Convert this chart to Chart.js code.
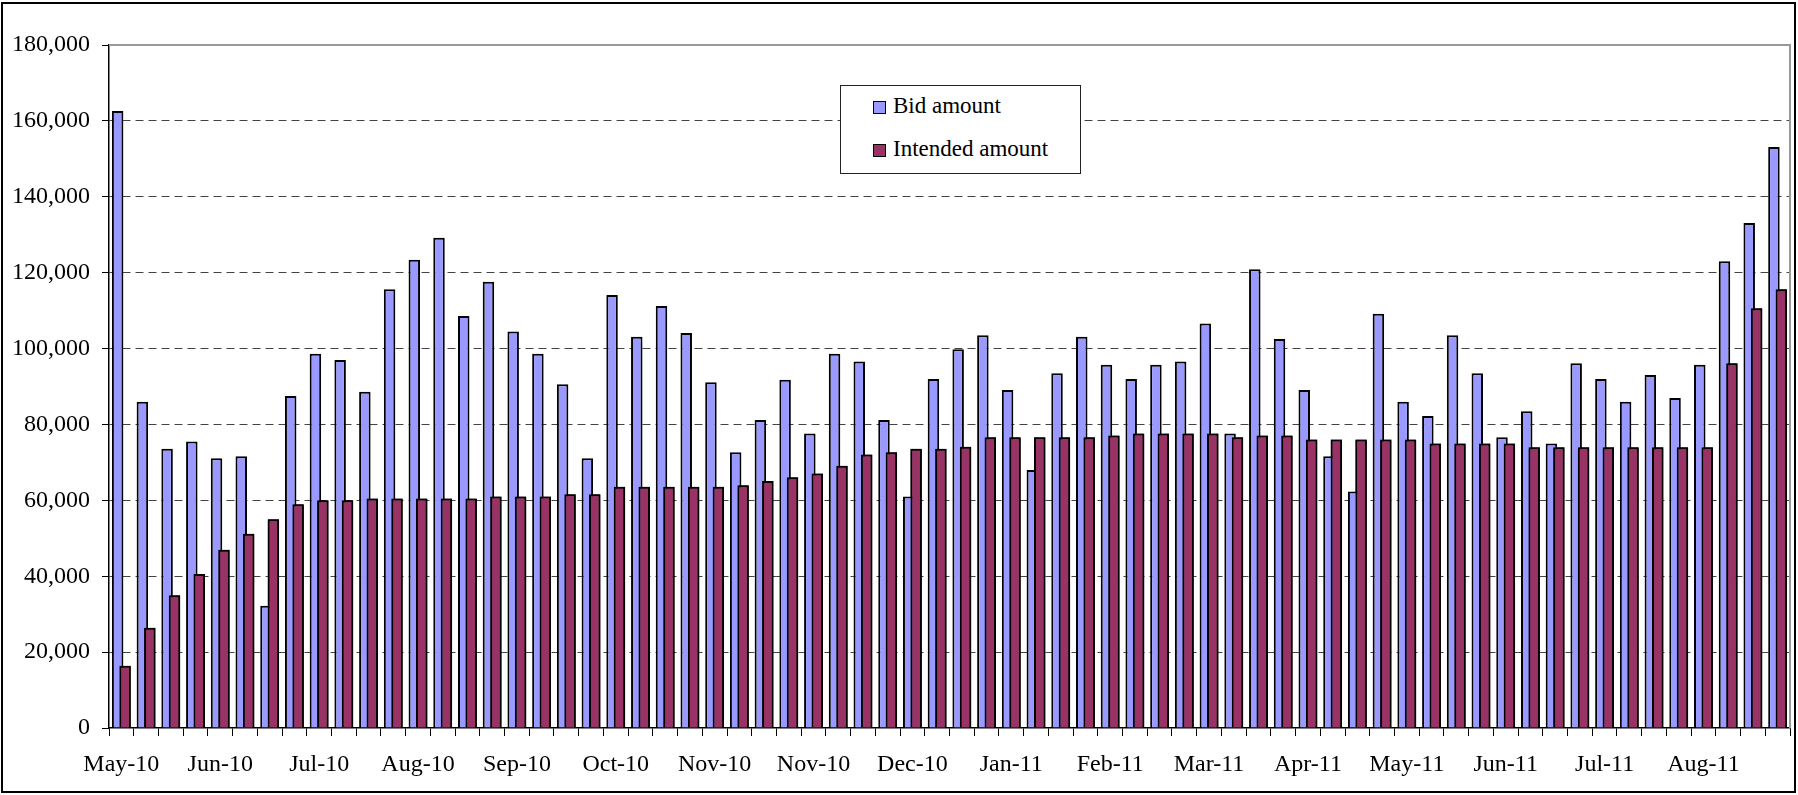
<!DOCTYPE html>
<html>
<head>
<meta charset="utf-8">
<script src="https://cdn.jsdelivr.net/npm/chart.js@4.4.1/dist/chart.umd.min.js"></script>
<style>
  body { margin: 0; background: #fff; }
  #wrap { position: relative; width: 1798px; height: 795px; }
  #legend {
    position: absolute; left: 840px; top: 85px; width: 239px; height: 87px;
    border: 1px solid #222; background: #fff;
    font-family: "Liberation Serif", "Times New Roman", serif; font-size: 23px; color: #000;
  }
  .item { position: absolute; left: 32px; height: 28px; line-height: 28px; white-space: nowrap; }
  .swatch { position: absolute; left: 0; top: 7px; width: 11px; height: 11px; border: 1.5px solid #000; }
  .item span { position: absolute; left: 20px; top: -2px; }
</style>
</head>
<body>
<div id="wrap">
  <canvas id="chart" width="1798" height="795"></canvas>
  <div id="legend"></div>
</div>
<script>
// weekly amounts
const tickLabels = ['May-10', 'Jun-10', 'Jul-10', 'Aug-10', 'Sep-10', 'Oct-10', 'Nov-10', 'Nov-10', 'Dec-10',
  'Jan-11', 'Feb-11', 'Mar-11', 'Apr-11', 'May-11', 'Jun-11', 'Jul-11', 'Aug-11'];

const bidAmount = [
  162600, 86000, 73600, 75500, 71100, 71600, 32200, 87500, 98600, 97000,
  88600, 115600, 123400, 129200, 108600, 117600, 104500, 98600, 90600, 71100,
  114100, 103100, 111200, 104100, 91100, 72700, 81200, 91800, 77600, 98600,
  96600, 81200, 61000, 92000, 99800, 103500, 89100, 68000, 93500, 103100,
  95700, 92000, 95700, 96600, 106600, 77600, 120900, 102500, 89100, 71600,
  62300, 109200, 86000, 82200, 103500, 93500, 76600, 83500, 75000, 96100,
  92000, 86000, 93000, 87000, 95700, 123000, 133100, 153100
];

const intendedAmount = [
  16400, 26400, 35000, 40600, 47000, 51200, 55000, 59000, 60000, 60000,
  60500, 60500, 60500, 60500, 60500, 61000, 61000, 61000, 61600, 61600,
  63600, 63600, 63600, 63600, 63600, 64000, 65100, 66100, 67100, 69100,
  72100, 72700, 73600, 73600, 74100, 76600, 76600, 76600, 76600, 76600,
  77100, 77600, 77600, 77600, 77600, 76600, 77100, 77100, 76000, 76000,
  76000, 76000, 76000, 75000, 75000, 75000, 75000, 74000, 74000, 74000,
  74000, 74000, 74000, 74000, 74000, 96100, 110600, 115600
];

// one label every 4 weeks
const categories = bidAmount.map((v, i) => (i % 4 === 0 ? tickLabels[i / 4] : ''));

const serif = '"Liberation Serif", "Times New Roman", serif';

const framePlugin = {
  id: 'frame',
  beforeDatasetsDraw(chart) {
    const { ctx, chartArea: a } = chart;
    ctx.save();
    ctx.strokeStyle = '#999';
    ctx.lineWidth = 2;
    ctx.beginPath();
    ctx.moveTo(a.left, a.top);
    ctx.lineTo(a.right, a.top);
    ctx.lineTo(a.right, a.bottom);
    ctx.stroke();
    ctx.restore();
  },
  afterDatasetsDraw(chart) {
    // intended bars sit over the bid bars
    chart.getDatasetMeta(1).controller.draw();
  },
  afterDraw(chart) {
    const ctx = chart.ctx;
    ctx.save();
    ctx.strokeStyle = '#000';
    ctx.lineWidth = 2;
    ctx.strokeRect(2, 3, 1793, 789);
    ctx.restore();
  }
};

const chart = new Chart(document.getElementById('chart'), {
  type: 'bar',
  data: {
    labels: categories,
    datasets: [
      { label: 'Bid amount', data: bidAmount, backgroundColor: '#9999FF', borderColor: '#000', borderWidth: 2,
        categoryPercentage: 0.6, barPercentage: 1.55 },
      { label: 'Intended amount', data: intendedAmount, backgroundColor: '#993366', borderColor: '#000', borderWidth: 2,
        categoryPercentage: 0.6, barPercentage: 1.55 }
    ]
  },
  options: {
    responsive: false,
    animation: false,
    devicePixelRatio: 1,
    layout: { padding: { left: 0, right: 8, top: 45, bottom: 0 } },
    plugins: { legend: { display: false }, tooltip: { enabled: false } },
    scales: {
      x: {
        grid: { display: true, drawOnChartArea: false, drawTicks: true, tickLength: 8, color: '#000', offset: true },
        border: { color: '#000', width: 1.5 },
        ticks: { autoSkip: false, maxRotation: 0, minRotation: 0, padding: 14, color: '#000',
          font: { family: serif, size: 24 } },
        afterFit(scale) { scale.height = 67; }
      },
      y: {
        min: 0,
        max: 180000,
        grid: {
          color: (c) => (c.tick && (c.tick.value === 0 || c.tick.value === 180000)) ? 'rgba(0,0,0,0)' : '#444',
          tickColor: '#000',
          tickLength: 7,
          lineWidth: 1
        },
        border: { color: '#000', width: 1.5, dash: [8, 5] },
        ticks: {
          stepSize: 20000,
          padding: 12,
          color: '#000',
          font: { family: serif, size: 24 },
          callback: (v) => String(v).replace(/\B(?=(\d{3})+(?!\d))/g, ',')
        },
        afterFit(scale) { scale.width = 109; }
      }
    }
  },
  plugins: [framePlugin]
});

// legend box built from the datasets
const legend = document.getElementById('legend');
chart.data.datasets.forEach((ds, i) => {
  const item = document.createElement('div');
  item.className = 'item';
  item.style.top = (8 + i * 43) + 'px';
  const sw = document.createElement('div');
  sw.className = 'swatch';
  sw.style.backgroundColor = ds.backgroundColor;
  const txt = document.createElement('span');
  txt.textContent = ds.label;
  item.appendChild(sw);
  item.appendChild(txt);
  legend.appendChild(item);
});
</script>
</body>
</html>
